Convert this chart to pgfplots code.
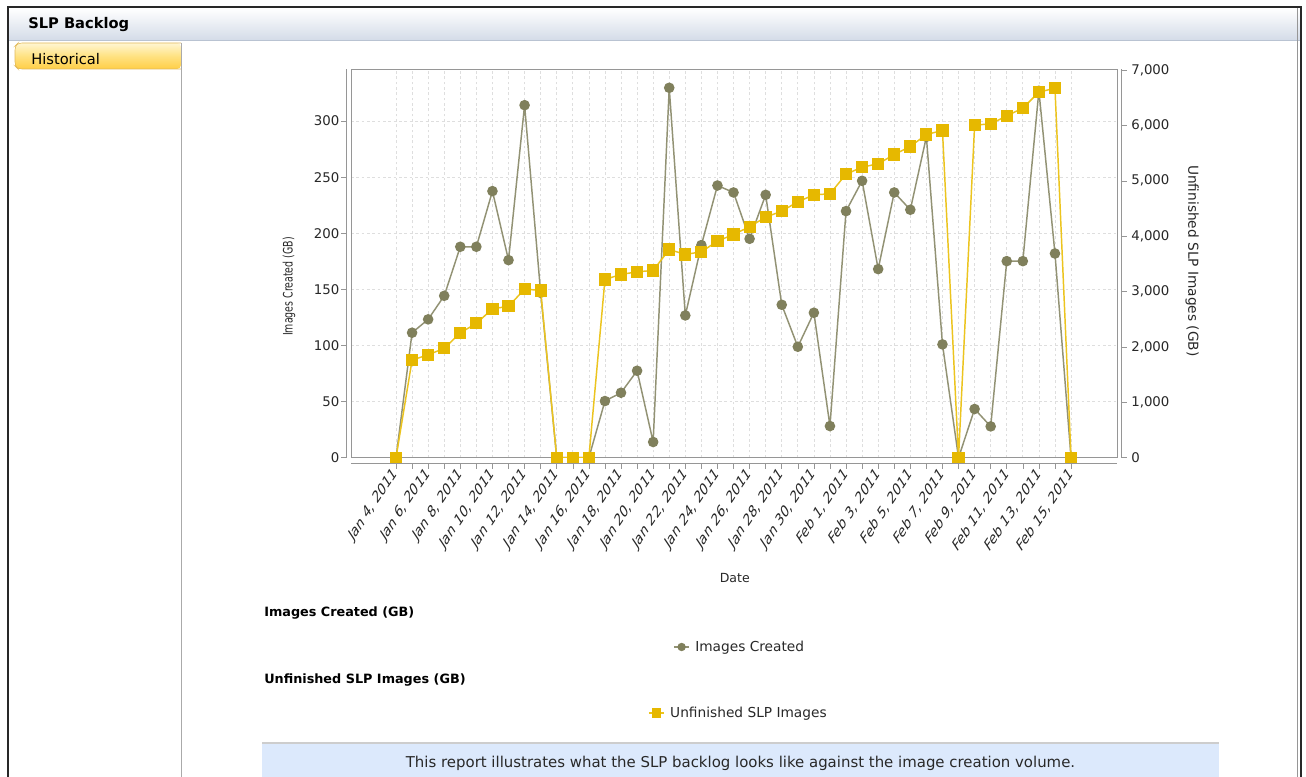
\documentclass[border=0pt]{standalone}
\usepackage{pgfplots}
\pgfplotsset{compat=1.18}
\usepackage{fontspec}
\setmainfont{DejaVu Sans}
\definecolor{imgline}{RGB}{146,146,116}
\definecolor{imgmark}{RGB}{128,128,92}
\definecolor{unfline}{RGB}{236,196,30}
\definecolor{unfmark}{RGB}{230,184,0}
\definecolor{boxgray}{RGB}{150,150,150}
\definecolor{gridgray}{RGB}{222,222,222}
\definecolor{infoblue}{RGB}{220,233,252}
\definecolor{barbot}{RGB}{212,220,232}
\definecolor{textdark}{RGB}{40,40,40}

\pgfplotstableread{
k v
0 0
1 111.4
2 123.3
3 144.3
4 188
5 188
6 237.6
7 176.1
8 314.2
9 147
10 0
11 0
12 0
13 50.5
14 57.9
15 77.5
16 14
17 329.7
18 126.8
19 189.5
20 242.6
21 236.4
22 195.1
23 234.3
24 136.3
25 98.9
26 129.2
27 28.2
28 219.8
29 246.8
30 168.1
31 236.4
32 221
33 286
34 101
35 0
36 43.4
37 27.9
38 175.2
39 175.2
40 327
41 182
42 0
}\imagescreated

\pgfplotstableread{
k v
0 0
1 1763
2 1859
3 1974
4 2256
5 2425
6 2690
7 2732
8 3045
9 3020
10 0
11 0
12 0
13 3219
14 3309
15 3357
16 3381
17 3760
18 3670
19 3718
20 3911
21 4031
22 4170
23 4344
24 4452
25 4621
26 4747
27 4765
28 5120
29 5247
30 5307
31 5475
32 5620
33 5836
34 5909
35 0
36 6005
37 6029
38 6173
39 6312
40 6601
41 6673
42 0
}\unfinished

\begin{document}
\begin{tikzpicture}
\begin{scope}[x=0.75pt,y=-0.75pt]
\useasboundingbox (0,0) rectangle (1306,777);
\fill[white] (0,0) rectangle (1306,777);
% title bar
\shade[top color=white, bottom color=barbot] (9,8) rectangle (1300,40);
\draw[color={rgb,255:red,185;green,195;blue,210}] (9,40.5) -- (1300,40.5);
\node[anchor=west, inner sep=0pt, font=\fontsize{11}{13}\selectfont\bfseries] at (28,25) {SLP Backlog};
% sidebar tab
\shade[top color={rgb,255:red,255;green,246;blue,210}, bottom color={rgb,255:red,255;green,206;blue,70}, middle color={rgb,255:red,255;green,226;blue,130}, rounded corners=3pt] (15,43) rectangle (181,69);
\draw[color={rgb,255:red,225;green,185;blue,90}, rounded corners=3pt] (181,43) -- (18,43) -- (15,46) -- (15,66) -- (18,69) -- (181,69);
\node[anchor=west, inner sep=0pt, font=\fontsize{11}{13}\selectfont] at (31,59) {Historical};
\draw[color={rgb,255:red,170;green,170;blue,170}] (181.5,43) -- (181.5,777);
% outer frame
\draw[line width=1.2pt, color={rgb,255:red,40;green,40;blue,40}] (8,777) -- (8,7) -- (1301,7) -- (1301,777);
\draw[color={rgb,255:red,150;green,150;blue,150}] (1297.5,8) -- (1297.5,777);
\end{scope}

\begin{axis}[
  scale only axis, width=574.5pt, height=291.15pt,
  at={(263.25pt,-343.275pt)}, anchor=south west,
  xmin=-2.8, xmax=44.86, ymin=0, ymax=346,
  axis line style={draw=boxgray},
  xtick={0,...,42},
  xticklabels={{Jan 4, 2011},,{Jan 6, 2011},,{Jan 8, 2011},,{Jan 10, 2011},,{Jan 12, 2011},,{Jan 14, 2011},,{Jan 16, 2011},,{Jan 18, 2011},,{Jan 20, 2011},,{Jan 22, 2011},,{Jan 24, 2011},,{Jan 26, 2011},,{Jan 28, 2011},,{Jan 30, 2011},,{Feb 1, 2011},,{Feb 3, 2011},,{Feb 5, 2011},,{Feb 7, 2011},,{Feb 9, 2011},,{Feb 11, 2011},,{Feb 13, 2011},,{Feb 15, 2011}},
  ytick={0,50,...,300},
  major tick length=0pt,
  grid=major,
  grid style={gridgray, dash pattern=on 2pt off 2pt, line width=0.5pt},
  /pgf/number format/assume math mode=true,
  tick label style={font=\fontsize{10}{12}\selectfont, color=textdark},
  yticklabel style={anchor=east, inner sep=0pt, xshift=-8.6pt},
  xticklabel style={anchor=east, inner sep=0pt, yscale=1.5, rotate=45, font=\fontsize{8.4}{10}\selectfont},
  xticklabel shift=10pt,
  xlabel={Date},
  ylabel={Images Created (GB)},
  every axis x label/.style={at={(axis description cs:0.501,-0.31)}, anchor=center, font=\fontsize{9.4}{11}\selectfont, color=textdark},
  every axis y label/.style={at={(axis description cs:-0.081,0.441)}, anchor=center, rotate=90, xscale=0.72, font=\fontsize{9.8}{11}\selectfont, color=textdark},
  legend style={at={(axis description cs:0.4204,-0.4876)}, anchor=west, draw=none, fill=none, font=\fontsize{10.3}{12}\selectfont, inner sep=0pt, column sep=2pt, text=textdark},
  legend image code/.code={\draw[mark repeat=2,mark phase=2,#1, every mark/.append style={scale=0.75}] plot coordinates {(0cm,0cm) (0.2cm,0cm) (0.4cm,0cm)};},
]
\addplot[color=imgline, line width=1.1pt, mark=*, mark size=3.4pt, mark options={fill=imgmark, draw=imgmark}] table[x=k, y=v] {\imagescreated};
\addlegendentry{Images Created}
\end{axis}

\begin{axis}[
  scale only axis, width=574.5pt, height=291.15pt,
  at={(263.25pt,-343.275pt)}, anchor=south west,
  xmin=-2.8, xmax=44.86, ymin=0, ymax=7010,
  axis x line=none, axis y line*=right,
  axis line style={draw=none},
  ytick={0,1000,...,7000},
  major tick length=0pt,
  scaled y ticks=false,
  /pgf/number format/assume math mode=true,
  /pgf/number format/1000 sep={,},
  tick label style={font=\fontsize{10}{12}\selectfont, color=textdark},
  yticklabel style={anchor=west, inner sep=0pt, xshift=10.5pt},
  ylabel={Unfinished SLP Images (GB)},
  every axis y label/.style={at={(axis description cs:1.098,0.507)}, anchor=center, rotate=-90, font=\fontsize{10.3}{12}\selectfont, color=textdark},
  legend style={at={(axis description cs:0.3877,-0.6577)}, anchor=west, draw=none, fill=none, font=\fontsize{10.3}{12}\selectfont, inner sep=0pt, column sep=2pt, text=textdark},
  legend image code/.code={\draw[mark repeat=2,mark phase=2,#1, every mark/.append style={scale=0.75}] plot coordinates {(0cm,0cm) (0.2cm,0cm) (0.4cm,0cm)};},
]
\addplot[color=unfline, line width=1.1pt, mark=square*, mark size=4pt, mark options={fill=unfmark, draw=unfmark}] table[x=k, y=v] {\unfinished};
\addlegendentry{Unfinished SLP Images}
\end{axis}

\begin{scope}[x=0.75pt,y=-0.75pt]
% offset axis lines and ticks
\draw[boxgray] (346,69.3) -- (346,457.7);
\foreach \v in {0,50,...,300} \draw[boxgray] (346,{457.7-\v*1.1222}) -- (341,{457.7-\v*1.1222});
\draw[boxgray] (1121.5,69.3) -- (1121.5,457.7);
\foreach \v in {0,1000,...,7000} \draw[boxgray] (1121.5,{457.7-\v*0.05538}) -- (1126.5,{457.7-\v*0.05538});
\draw[boxgray] (351,463.5) -- (1117,463.5);
\foreach \k in {0,...,42} \draw[boxgray] ({396+\k*16.071},463.5) -- ({396+\k*16.071},468.5);
% legend section titles
\node[anchor=west, inner sep=0pt, font=\fontsize{9.6}{11}\selectfont\bfseries] at (264,613) {Images Created (GB)};
\node[anchor=west, inner sep=0pt, font=\fontsize{9.6}{11}\selectfont\bfseries] at (264,680) {Unfinished SLP Images (GB)};
% info box
\fill[infoblue] (262,743) rectangle (1219,777);
\draw[color={rgb,255:red,205;green,205;blue,205}, line width=1.5pt] (262,742.5) -- (1219,742.5);
\node[font=\fontsize{11.2}{13}\selectfont, text=textdark] at (740.5,763) {This report illustrates what the SLP backlog looks like against the image creation volume.};
\end{scope}
\end{tikzpicture}
\end{document}
